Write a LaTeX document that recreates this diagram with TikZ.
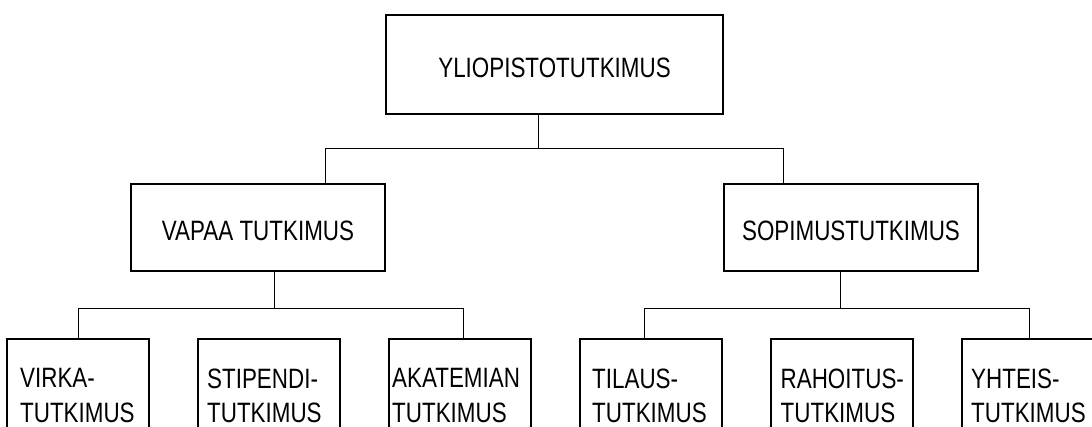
\documentclass[tikz,border=0pt]{standalone}
\usepackage{fontspec}
\setmainfont[FakeStretch=0.8]{Liberation Sans}
\usetikzlibrary{positioning, calc}

\tikzset{
  box/.style={draw, line width=1.5pt, inner sep=0pt},
  topbox/.style={box, minimum width=337pt, minimum height=99pt,
                 text height=26pt, text depth=0pt},
  midbox/.style={box, minimum width=254pt, minimum height=87pt,
                 text height=26pt, text depth=0pt},
  leafbox/.style={box, anchor=north west, minimum width=142pt,
                  minimum height=110pt},
  leaftext/.style={anchor=north west, inner sep=0pt, align=left},
  conn/.style={line width=1pt}
}

\begin{document}
\begin{tikzpicture}[x=1pt, y=-1pt, font=\fontsize{28}{34.7}\selectfont]
  \useasboundingbox (0,0) rectangle (1092,426);
  \clip (0,0) rectangle (1092,426);

  \node[topbox] (root) at (554.5,64.5) {YLIOPISTOTUTKIMUS};
  \node[midbox] (vapaa) at (258,227.5) {VAPAA TUTKIMUS};
  \node[midbox] (sopimus) at (851,227.5) {SOPIMUSTUTKIMUS};

  % first level
  \coordinate (j0) at (538,148);
  \coordinate (jl) at (325,148);
  \coordinate (jr) at (783,148);
  \draw[conn] (root.south -| j0) -- (j0);
  \draw[conn] (vapaa.north -| jl) -- (jl) -- (jr) -- (sopimus.north -| jr);

  % leaves
  \foreach \n/\xpos/\pad/\txt in {v1/6/14/{VIRKA-\\TUTKIMUS},
      v2/197/10/{STIPENDI-\\TUTKIMUS}, v3/388/4/{AKATEMIAN\\TUTKIMUS},
      s1/579/13/{TILAUS-\\TUTKIMUS}, s2/770/10.5/{RAHOITUS-\\TUTKIMUS},
      s3/961/10/{YHTEIS-\\TUTKIMUS}} {
    \node[leafbox] (\n) at (\xpos,338) {};
    \node[leaftext] (\n-txt) at ($(\n.north west)+(\pad,30.5)$) {\txt};
  }

  % second level
  \coordinate (km) at (274,308);
  \coordinate (kl) at (78,308);
  \coordinate (kr) at (463,308);
  \draw[conn] (vapaa.south -| km) -- (km);
  \draw[conn] (v1.north -| kl) -- (kl) -- (kr) -- (v3.north -| kr);

  \coordinate (sm) at (840,308);
  \coordinate (sl) at (644,308);
  \coordinate (sr) at (1029,308);
  \draw[conn] (sopimus.south -| sm) -- (sm);
  \draw[conn] (s1.north -| sl) -- (sl) -- (sr) -- (s3.north -| sr);
\end{tikzpicture}
\end{document}
